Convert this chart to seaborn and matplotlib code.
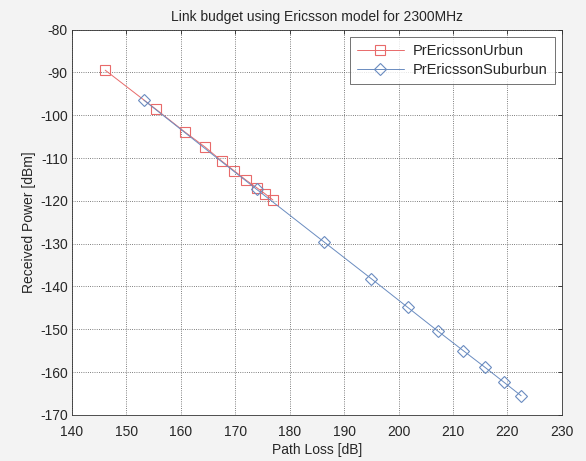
import matplotlib
matplotlib.use("Agg")
import matplotlib.pyplot as plt
import seaborn as sns
import pandas as pd

# path loss [dB] and received power [dBm]
pl_urban = [146.1, 155.4, 160.7, 164.5, 167.5, 169.8, 172.0, 173.9, 175.4, 176.9]
pr_urban = [-89.5, -98.6, -103.9, -107.5, -110.7, -113.0, -115.2, -116.9, -118.3, -119.8]

pl_suburban = [153.2, 173.9, 186.3, 195.0, 201.7, 207.2, 211.9, 215.9, 219.4, 222.5]
pr_suburban = [-96.5, -117.3, -129.6, -138.2, -144.9, -150.4, -155.0, -158.9, -162.4, -165.5]

labels = ["PrEricssonUrbun", "PrEricssonSuburbun"]

df_urban = pd.DataFrame({"PL": pl_urban, "Pr": pr_urban})
df_sub = pd.DataFrame({"PL": pl_suburban, "Pr": pr_suburban})

sns.set_style("white")
plt.rcParams['font.family'] = ['Liberation Sans', 'DejaVu Sans']
plt.rcParams['font.size'] = 10
plt.rcParams['axes.unicode_minus'] = False

fig = plt.figure(figsize=(5.86, 4.61), dpi=100, facecolor="#f3f3f3")
ax = fig.add_axes([0.1229, 0.0998, 0.836, 0.8362])
ax.set_facecolor("white")

red = "#e86a6a"
blue = "#6a8cc0"

sns.lineplot(data=df_urban, x="PL", y="Pr", ax=ax, color=red, lw=0.7,
             marker="s", markersize=7.5, markerfacecolor="none",
             markeredgecolor=red, markeredgewidth=0.8, label=labels[0],
             estimator=None, sort=False)
sns.lineplot(data=df_sub, x="PL", y="Pr", ax=ax, color=blue, lw=0.7,
             marker="D", markersize=6.5, markerfacecolor="none",
             markeredgecolor=blue, markeredgewidth=0.8, label=labels[1],
             estimator=None, sort=False)

ax.set_xlim(140, 230)
ax.set_ylim(-170, -80)
ax.set_xticks(range(140, 231, 10))
ax.set_yticks(range(-170, -79, 10))
ax.grid(True, linestyle=":", color="#555555", lw=0.6)
ax.tick_params(direction="in", top=True, right=True, length=3, width=0.6,
               labelsize=10)
ax.tick_params(axis="x", pad=7)
ax.tick_params(axis="y", pad=3)
for s in ax.spines.values():
    s.set_color("#333333")
    s.set_linewidth(0.6)

ax.set_xlabel("Path Loss [dB]", fontsize=10, labelpad=3)
ax.set_ylabel("Received Power [dBm]", fontsize=10, labelpad=3)
ax.set_title("Link budget using Ericsson model for 2300MHz", fontsize=10, pad=6)

leg = ax.legend(loc="upper right", fontsize=10.5, frameon=True, fancybox=False,
                borderaxespad=0.5, handlelength=3.2, labelspacing=0.35,
                borderpad=0.5, handletextpad=0.6)
leg.get_frame().set_edgecolor("#333333")
leg.get_frame().set_linewidth(0.6)

fig.savefig("out.png", dpi=100, facecolor=fig.get_facecolor())
